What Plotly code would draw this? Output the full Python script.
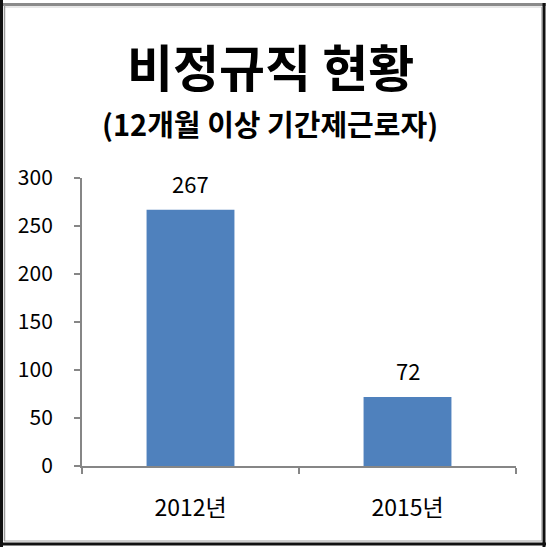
import plotly.graph_objects as go

categories = ["2012년", "2015년"]
values = [267, 72]
y_ticks = [0, 50, 100, 150, 200, 250, 300]

W, H = 550, 550
L, R, T, B = 82, 34, 178, 84
pw, ph = W - L - R, H - T - B

def px_x(p):
    return (p - L) / pw

def px_y(p):
    return (H - B - p) / ph

KR = "Malgun Gothic, Noto Sans CJK KR, sans-serif"

fig = go.Figure(go.Bar(
    x=categories, y=values,
    marker=dict(color="#4F81BD", line=dict(width=0)),
    width=0.405,
))

label_annotations = [
    dict(text=str(v), x=c, y=v, xref="x", yref="y",
         xanchor="center", yanchor="middle", yshift=27, showarrow=False,
         font=dict(family=KR, size=22, color="#000000"))
    for c, v in zip(categories, values)
]

def hline(y, x0, x1, color, w):
    return dict(type="line", xref="paper", yref="paper",
                x0=px_x(x0), x1=px_x(x1), y0=px_y(y), y1=px_y(y),
                line=dict(color=color, width=w))

def vline(x, y0, y1, color, w):
    return dict(type="line", xref="paper", yref="paper",
                x0=px_x(x), x1=px_x(x), y0=px_y(y0), y1=px_y(y1),
                line=dict(color=color, width=w))

fig.update_layout(
    width=W, height=H,
    margin=dict(l=L, r=R, t=T, b=B),
    paper_bgcolor="white", plot_bgcolor="white",
    showlegend=False,
    xaxis=dict(
        type="category", tickson="boundaries",
        showline=True, linecolor="#868686", linewidth=2,
        ticks="outside", ticklen=6, tickcolor="#868686", tickwidth=2,
        tickfont=dict(family=KR, size=23, color="#000000"),
        ticklabelstandoff=20,
        showgrid=False, zeroline=False,
    ),
    yaxis=dict(
        range=[0, 300], tickvals=y_ticks,
        showline=True, linecolor="#868686", linewidth=2,
        ticks="outside", ticklen=6, tickcolor="#868686", tickwidth=2,
        tickfont=dict(family=KR, size=21, color="#000000"),
        ticklabelstandoff=17,
        showgrid=False, zeroline=False,
    ),
    annotations=label_annotations + [
        dict(text="<b>비정규직 현황</b>", x=px_x(270), y=px_y(65),
             xref="paper", yref="paper", xanchor="center", yanchor="middle",
             showarrow=False, font=dict(family=KR, size=50, color="#000000")),
        dict(text="<b>(12개월 이상 기간제근로자)</b>", x=px_x(270), y=px_y(123.5),
             xref="paper", yref="paper", xanchor="center", yanchor="middle",
             showarrow=False, font=dict(family=KR, size=29, color="#000000")),
    ],
    shapes=[
        hline(4.5, 0, 546, "#8a8a8a", 3),
        hline(7, 4, 542, "#d0d0d0", 1),
        vline(1.5, 0, 547, "#111111", 3),
        vline(4.5, 5, 541, "#9a9a9a", 1.5),
        vline(544, 3, 547, "#111111", 3),
        vline(541.5, 7, 541, "#c0c0c0", 1),
        hline(544, 0, 546, "#111111", 3),
        hline(541, 4, 542, "#a0a0a0", 1),
    ],
)

fig.write_html(
    "out.html",
    config={"displayModeBar": False},
    post_script="document.body.style.margin='0';document.body.style.overflow='hidden';",
)
